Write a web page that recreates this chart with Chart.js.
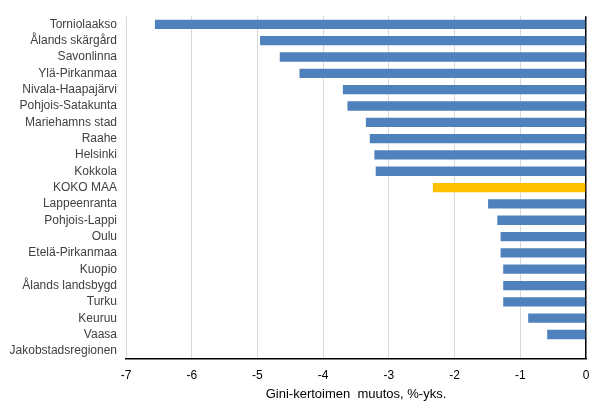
<!DOCTYPE html>
<html>
<head>
<meta charset="utf-8">
<script src="https://cdn.jsdelivr.net/npm/chart.js@4/dist/chart.umd.min.js"></script>
<style>
  html, body { margin: 0; padding: 0; background: #fff; }
  #wrap { width: 605px; height: 416px; }
</style>
</head>
<body>
<div id="wrap"><canvas id="chart"></canvas></div>
<script>
const regions = [
  "Torniolaakso", "Ålands skärgård", "Savonlinna", "Ylä-Pirkanmaa",
  "Nivala-Haapajärvi", "Pohjois-Satakunta", "Mariehamns stad", "Raahe",
  "Helsinki", "Kokkola", "KOKO MAA", "Lappeenranta", "Pohjois-Lappi",
  "Oulu", "Etelä-Pirkanmaa", "Kuopio", "Ålands landsbygd", "Turku",
  "Keuruu", "Vaasa", "Jakobstadsregionen"
];
const giniChange = [
  -6.56, -4.96, -4.66, -4.36, -3.70, -3.63, -3.35, -3.29, -3.22, -3.20,
  -2.33, -1.49, -1.35, -1.30, -1.30, -1.26, -1.26, -1.26, -0.88, -0.59, 0
];
const highlight = "KOKO MAA";
const xTicks = [-7, -6, -5, -4, -3, -2, -1, 0];

const barColors = regions.map(r => r === highlight ? "#FFC000" : "#4F81BD");

new Chart(document.getElementById("chart"), {
  type: "bar",
  data: {
    labels: regions,
    datasets: [{
      data: giniChange,
      backgroundColor: barColors,
      borderWidth: 0,
      categoryPercentage: 0.57,
      barPercentage: 1
    }]
  },
  options: {
    indexAxis: "y",
    responsive: true,
    maintainAspectRatio: false,
    animation: false,
    layout: { padding: { left: 0, right: 19, top: 15, bottom: 0 } },
    plugins: { legend: { display: false }, tooltip: { enabled: false } },
    scales: {
      x: {
        min: xTicks[0],
        max: xTicks[xTicks.length - 1],
        afterBuildTicks: s => { s.ticks = xTicks.map(v => ({ value: v })); },
        afterFit: s => { s.height = 57; },
        grid: {
          color: ctx => ctx.tick && ctx.tick.value === 0 ? "#000" : "#D9D9D9",
          lineWidth: ctx => ctx.tick && ctx.tick.value === 0 ? 1.5 : 1,
          drawTicks: false
        },
        border: { color: "#000", width: 1.5 },
        ticks: {
          color: "#000",
          padding: 9,
          font: { family: "Liberation Sans", size: 12 }
        },
        title: {
          display: true,
          text: "Gini-kertoimen  muutos, %-yks.",
          color: "#000",
          padding: { top: 4, bottom: 14 },
          font: { family: "Liberation Sans", size: 13 }
        }
      },
      y: {
        afterFit: s => { s.width = 126; },
        grid: { display: false, drawTicks: false },
        border: { display: false },
        ticks: {
          autoSkip: false,
          color: "#404040",
          padding: 9,
          font: { family: "Liberation Sans", size: 12 }
        }
      }
    }
  }
});
</script>
</body>
</html>
